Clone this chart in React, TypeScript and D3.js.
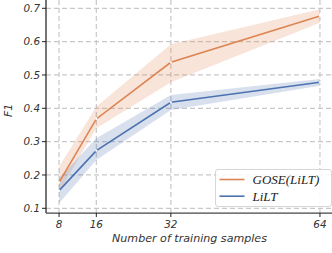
import React from "react";
import * as d3 from "d3";

const samples = [8, 16, 32, 64];
const yTicks = [0.1, 0.2, 0.3, 0.4, 0.5, 0.6, 0.7];

const goseMean = [0.178, 0.368, 0.538, 0.677];
const goseLow = [0.15, 0.34, 0.478, 0.657];
const goseHigh = [0.225, 0.405, 0.592, 0.697];

const liltMean = [0.153, 0.273, 0.418, 0.478];
const liltLow = [0.115, 0.245, 0.395, 0.468];
const liltHigh = [0.19, 0.31, 0.44, 0.488];

const seriesNames = ["GOSE(LiLT)", "LiLT"];
const seriesColors = ["#dd8452", "#4c72b0"];

const W = 332;
const H = 253;
const margin = { left: 46, right: -1, top: 0, bottom: 40 };

const App = () => {
  const x = d3.scaleLinear().domain([5.2, 66.8]).range([margin.left, W - margin.right]);
  const y = d3.scaleLinear().domain([0.1, 0.7]).range([208.3, 8.3]);
  const bottom = H - margin.bottom;

  const series = [
    { name: seriesNames[0], color: seriesColors[0], mean: goseMean, low: goseLow, high: goseHigh },
    { name: seriesNames[1], color: seriesColors[1], mean: liltMean, low: liltLow, high: liltHigh },
  ];

  const line = d3.line<number>().x((_, i) => x(samples[i])).y((d) => y(d));
  const area = (low: number[], high: number[]) =>
    d3.area<number>()
      .x((_, i) => x(samples[i]))
      .y0((_, i) => y(low[i]))
      .y1((_, i) => y(high[i]))(samples);

  const tickFont = "DejaVu Sans, sans-serif";

  return (
    <svg width={W} height={H} style={{ position: "absolute", left: 0, top: 0, background: "#fff" }}>
      <defs>
        <clipPath id="plot">
          <rect x={margin.left} y={0} width={W - margin.left} height={bottom} />
        </clipPath>
      </defs>
      <g clipPath="url(#plot)">
        {yTicks.map((t) => (
          <line key={`gy${t}`} x1={margin.left} x2={W} y1={y(t)} y2={y(t)}
            stroke="#c8c8c8" strokeWidth={1.2} strokeDasharray="5,3" />
        ))}
        {samples.map((s) => (
          <line key={`gx${s}`} x1={x(s)} x2={x(s)} y1={0} y2={bottom}
            stroke="#c8c8c8" strokeWidth={1.2} strokeDasharray="5,3" />
        ))}
        {series.map((s) => (
          <path key={`a${s.name}`} d={area(s.low, s.high) || ""} fill={s.color} opacity={0.22} />
        ))}
        {series.map((s) => (
          <path key={`l${s.name}`} d={line(s.mean) || ""} fill="none" stroke={s.color} strokeWidth={1.6} />
        ))}
        {series.map((s) =>
          s.mean.map((v, i) => (
            <circle key={`p${s.name}${i}`} cx={x(samples[i])} cy={y(v)} r={1.1} fill="#fff" />
          ))
        )}
      </g>

      {/* axes */}
      <line x1={margin.left} x2={margin.left} y1={0} y2={bottom} stroke="#222" strokeWidth={1.25} />
      <line x1={margin.left} x2={W} y1={bottom} y2={bottom} stroke="#444" strokeWidth={1.25} />
      {yTicks.map((t) => (
        <g key={`ty${t}`}>
          <line x1={margin.left - 4} x2={margin.left} y1={y(t)} y2={y(t)} stroke="#222" strokeWidth={1} />
          <text x={margin.left - 6} y={y(t)} dy="0.36em" textAnchor="end" fontSize={10.4}
            fontStyle="italic" fontFamily={tickFont} fill="#333">{d3.format(".1f")(t)}</text>
        </g>
      ))}
      {samples.map((s) => (
        <g key={`tx${s}`}>
          <line x1={x(s)} x2={x(s)} y1={bottom} y2={bottom + 4} stroke="#222" strokeWidth={1} />
          <text x={x(s)} y={bottom + 15.3} textAnchor="middle" fontSize={10.4}
            fontStyle="italic" fontFamily={tickFont} fill="#333">{s}</text>
        </g>
      ))}
      <text x={(margin.left + W) / 2 + 0.5} y={242.3} textAnchor="middle" fontSize={11.1}
        fontStyle="italic" fontFamily={tickFont} fill="#333">Number of training samples</text>
      <text transform={`translate(11.5,${y(0.4) + 2}) rotate(-90)`} textAnchor="middle" fontSize={11}
        fontStyle="italic" fontFamily={tickFont} fill="#333">F1</text>

      {/* legend */}
      <g transform="translate(215.5,169.5)">
        <rect x={0} y={0} width={116} height={37} rx={2.5} fill="#fff" fillOpacity={0.85}
          stroke="#d6d6d6" strokeWidth={1} />
        {series.map((s, i) => (
          <g key={`lg${s.name}`} transform={`translate(0,${10 + i * 16.7})`}>
            <line x1={4} x2={29} y1={0} y2={0} stroke={s.color} strokeWidth={1.6} />
            <text x={37} y={4.5} fontSize={13} fontStyle="italic"
              fontFamily="Liberation Serif, serif" fill="#222">{s.name}</text>
          </g>
        ))}
      </g>
    </svg>
  );
};

export default App;
